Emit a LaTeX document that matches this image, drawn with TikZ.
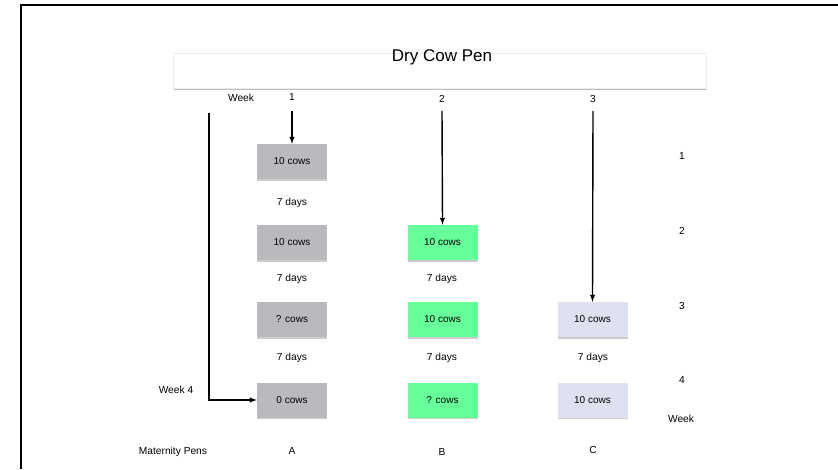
\documentclass[tikz,border=0pt]{standalone}
\usepackage{fontspec}
\setmainfont{Liberation Sans}
\usepackage{tikz}
\usetikzlibrary{arrows,shadows}

\definecolor{pengray}{HTML}{B8BABD}
\definecolor{pengreen}{HTML}{66FF99}
\definecolor{penblue}{HTML}{DDE1F0}

\tikzset{
  penbox/.style={minimum width=70pt,minimum height=35pt,inner sep=0pt,font=\fontsize{10}{12}\selectfont,
    drop shadow={shadow xshift=0.3pt,shadow yshift=-1.5pt,opacity=0.4}},
  lbl/.style={inner sep=0pt,font=\fontsize{10.2}{12}\selectfont},
  flow/.style={line width=1.4pt,-latex}
}

\begin{document}
\begin{tikzpicture}[x=1pt,y=-1pt]
        \useasboundingbox (0,0) rectangle (838,469);
        \fill[white] (0,0) rectangle (838,469);
        \draw[line width=2.8pt] (21,469) -- (21,5) -- (838,5);
        % dry cow pen
        \node[draw=gray!15,fill=white,minimum width=533pt,minimum height=35pt,anchor=north west,
          drop shadow={shadow xshift=1pt,shadow yshift=-1.8pt,opacity=0.5}] (dry) at (173,53) {};
        \node[lbl,font=\fontsize{17}{20}\selectfont] (title) at (442,57) {Dry Cow Pen};
        \node[lbl] (wk) at (241,98) {Week};
        \node[lbl] (w1) at (292,97) {1};
        \node[lbl] (w2) at (442,99) {2};
        \node[lbl] (w3) at (593,99) {3};
        \coordinate (s0) at (209,113);
        \coordinate (s1) at (292,111);
        \coordinate (s2) at (442,111);
        \coordinate (s3) at (593,111);
        % pens
        \node[penbox,fill=pengray] (a1) at (292,161.5) {10 cows};
        \node[penbox,fill=pengray] (a2) at (292,242.5) {10 cows};
        \node[penbox,fill=pengray] (a3) at (292,319.5) {? cows};
        \node[penbox,fill=pengray] (a4) at (292,400) {0 cows};
        \node[penbox,fill=pengreen] (b2) at (442.5,242.5) {10 cows};
        \node[penbox,fill=pengreen] (b3) at (442.5,319.5) {10 cows};
        \node[penbox,fill=pengreen] (b4) at (442.5,400) {? cows};
        \node[penbox,fill=penblue] (c3) at (592.5,319.5) {10 cows};
        \node[penbox,fill=penblue] (c4) at (592.5,400) {10 cows};
        % days
        \node[lbl] (d1) at (292,203) {7 days};
        \node[lbl] (d2) at (292,279) {7 days};
        \node[lbl] (d3) at (442,279) {7 days};
        \node[lbl] (d4) at (292,358) {7 days};
        \node[lbl] (d5) at (442,358) {7 days};
        \node[lbl] (d6) at (593,358) {7 days};
        % weeks on the right
        \node[lbl] (r1) at (682,156) {1};
        \node[lbl] (r2) at (682,231) {2};
        \node[lbl] (r3) at (682,306) {3};
        \node[lbl] (r4) at (682,380) {4};
        \node[lbl] (rw) at (681,419) {Week};
        \node[lbl] (wk4) at (176,390) {Week 4};
        \node[lbl] (mp) at (173,452) {Maternity Pens};
        \node[lbl] (pa) at (292,451) {A};
        \node[lbl] (pb) at (442,452) {B};
        \node[lbl] (pc) at (593,450) {C};
        % flows
        \draw[flow] (s1) -- (a1.north);
        \draw[flow] (s2) -- (b2.north);
        \draw[flow] (s3) -- (c3.north);
        \draw[flow] (s0) |- (a4.west);
      \end{tikzpicture}
\end{document}
